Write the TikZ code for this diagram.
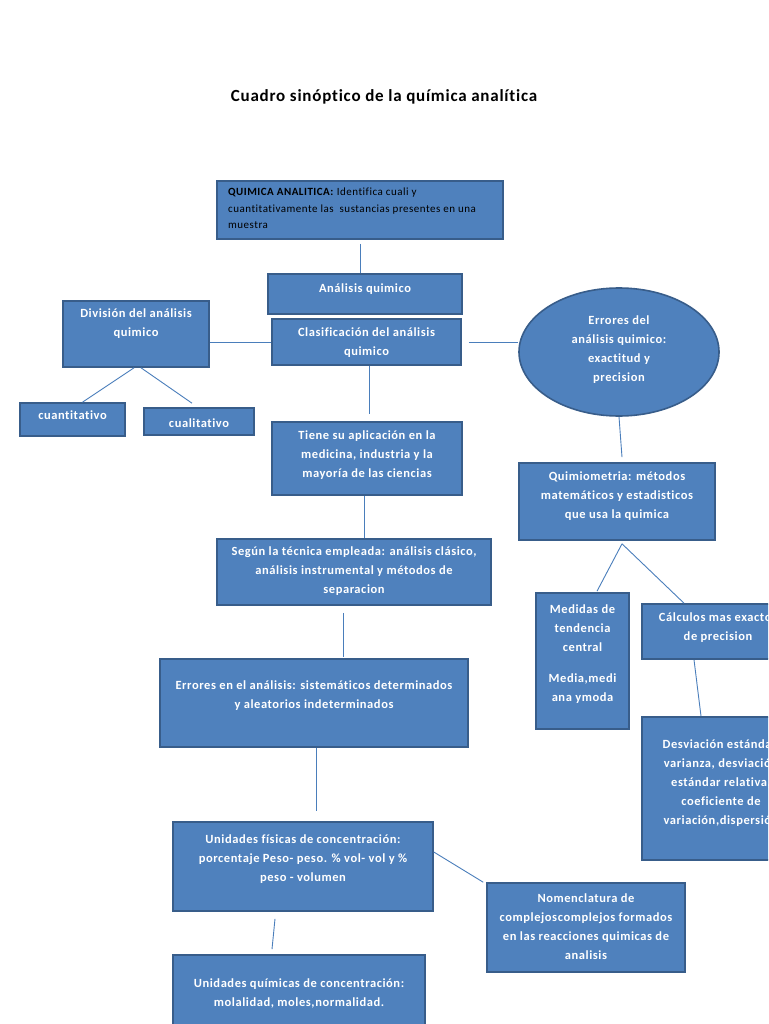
\documentclass[tikz,border=0pt]{standalone}
\usepackage{fontspec}
\setmainfont{Carlito}[LetterSpace=4.5,Ligatures=CommonOff]
\definecolor{boxfill}{HTML}{4F81BD}
\definecolor{boxline}{HTML}{385D8A}
\definecolor{connc}{HTML}{4A7EBB}
\tikzset{
  box/.style={draw=boxline, fill=boxfill, line width=1.6pt, inner sep=0pt, rectangle},
  ellbox/.style={draw=boxline, fill=boxfill, line width=1.6pt, inner sep=0pt, ellipse},
  txt/.style={text=white, font=\bfseries\fontsize{12.5}{19}\selectfont, align=center, inner sep=0pt},
  conn/.style={draw=connc, line width=0.9pt},
}
\usetikzlibrary{shapes.geometric}
\newcommand\bx[7]{%
  \node[box, minimum width={#4-#2}, minimum height={#5-#3}] (#1) at ({(#2+#4)/2},{(#3+#5)/2}) {};
  \node[txt] (#1t) at ({(#2+#4)/2},#6) {#7};}
\begin{document}
\begin{tikzpicture}[x=1pt,y=-1pt]
\useasboundingbox (0,0) rectangle (768,1024);
\fill[white] (0,0) rectangle (768,1024);
\clip (0,0) rectangle (768,1024);

\node[font=\bfseries\fontsize{17}{20}\selectfont, inner sep=0pt] (title) at (384,97) {Cuadro sinóptico de la química analítica};

% main box
\node[box, minimum width=286, minimum height=58] (qa) at (360,210) {};
\node[anchor=west, align=left, inner sep=0pt, font=\fontsize{11}{16.5}\selectfont] (qat) at (228,208.5)
  {\textbf{QUIMICA ANALITICA:} Identifica cuali y\\cuantitativamente las\ \ sustancias presentes en una\\muestra};

\bx{an}{268}{274}{462}{314}{289.5}{Análisis quimico}
\bx{clas}{272}{319}{461}{365}{342.5}{Clasificación del análisis\\quimico}
\bx{div}{63}{301}{209}{367}{324}{División del análisis\\quimico}
\bx{cuant}{20}{403}{125}{436}{415.5}{cuantitativo}
\bx{cual}{144}{408}{254}{435}{423}{cualitativo}
\bx{tiene}{272}{422}{462}{495}{455.5}{Tiene su aplicación en la\\medicina, industria y la\\mayoría de las ciencias}
\bx{segun}{217}{539}{491}{605}{571}{Según la técnica empleada: análisis clásico,\\análisis instrumental y métodos de\\separacion}
\bx{err}{160}{659}{468}{747}{696}{Errores en el análisis: sistemáticos determinados\\y aleatorios indeterminados}
\bx{uf}{173}{822}{433}{911}{859.5}{Unidades físicas de concentración:\\porcentaje Peso- peso. \% vol- vol y \%\\peso - volumen}
\bx{uq}{173}{955}{425}{1044}{993.5}{Unidades químicas de concentración:\\molalidad, moles,normalidad.}
\bx{nom}{487}{883}{685}{972}{927}{Nomenclatura de\\complejoscomplejos formados\\en las reacciones quimicas de\\analisis}

\node[ellbox, minimum width=200, minimum height=128] (ell) at (619,352) {};
\node[txt] (ellt) at (619,349.5) {Errores del\\análisis quimico:\\exactitud y\\precision};

\bx{qm}{519}{463}{715}{540}{496.5}{Quimiometria: métodos\\matemáticos y estadisticos\\que usa la quimica}
\bx{med}{536}{593}{629}{729}{654}{Medidas de\\tendencia\\central\\[12pt]Media,medi\\ana ymoda}
\bx{calc}{642}{604}{794}{659}{628}{Cálculos mas exactos\\de precision}
\bx{desv}{642}{717}{800}{860}{783}{Desviación estándar,\\varianza, desviación\\estándar relativa,\\coeficiente de\\variación,dispersión}

% connectors
\draw[conn] ([yshift=-4]qa.south) -- (qa.south |- an.north);
\draw[conn] (div.east |- clas.west) -- (clas.west);
\draw[conn] ([xshift=7]clas.east) -- (ell.west |- clas.east);
\draw[conn] ([xshift=-2]div.south) -- ([xshift=10]cuant.north);
\draw[conn] ([xshift=5]div.south) -- ([xshift=-7,yshift=4]cual.north);
\draw[conn] ([xshift=2.5]clas.south) -- ([xshift=2,yshift=7]tiene.north);
\draw[conn] ([xshift=-3]tiene.south) -- ([xshift=10]segun.north);
\draw[conn] ([xshift=-11,yshift=-7]segun.south) -- ([xshift=29,yshift=1]err.north);
\draw[conn] ([xshift=2]err.south) -- ([xshift=13,yshift=10]uf.north);
\draw[conn] ([xshift=-28,yshift=-7]uf.south) -- ([xshift=-27,yshift=5]uq.north);
\draw[conn] ([yshift=14.5]uf.east) -- ([xshift=-3]nom.north west);
\draw[conn] (ell.south) -- ([xshift=5,yshift=5]qm.north);
\draw[conn] ([xshift=5,yshift=-3]qm.south) -- ([xshift=14.5,yshift=1]med.north);
\draw[conn] ([xshift=5,yshift=-3]qm.south) -- ([xshift=-34]calc.north);
\draw[conn] ([xshift=-24]calc.south) -- ([xshift=-20]desv.north);
\end{tikzpicture}
\end{document}
